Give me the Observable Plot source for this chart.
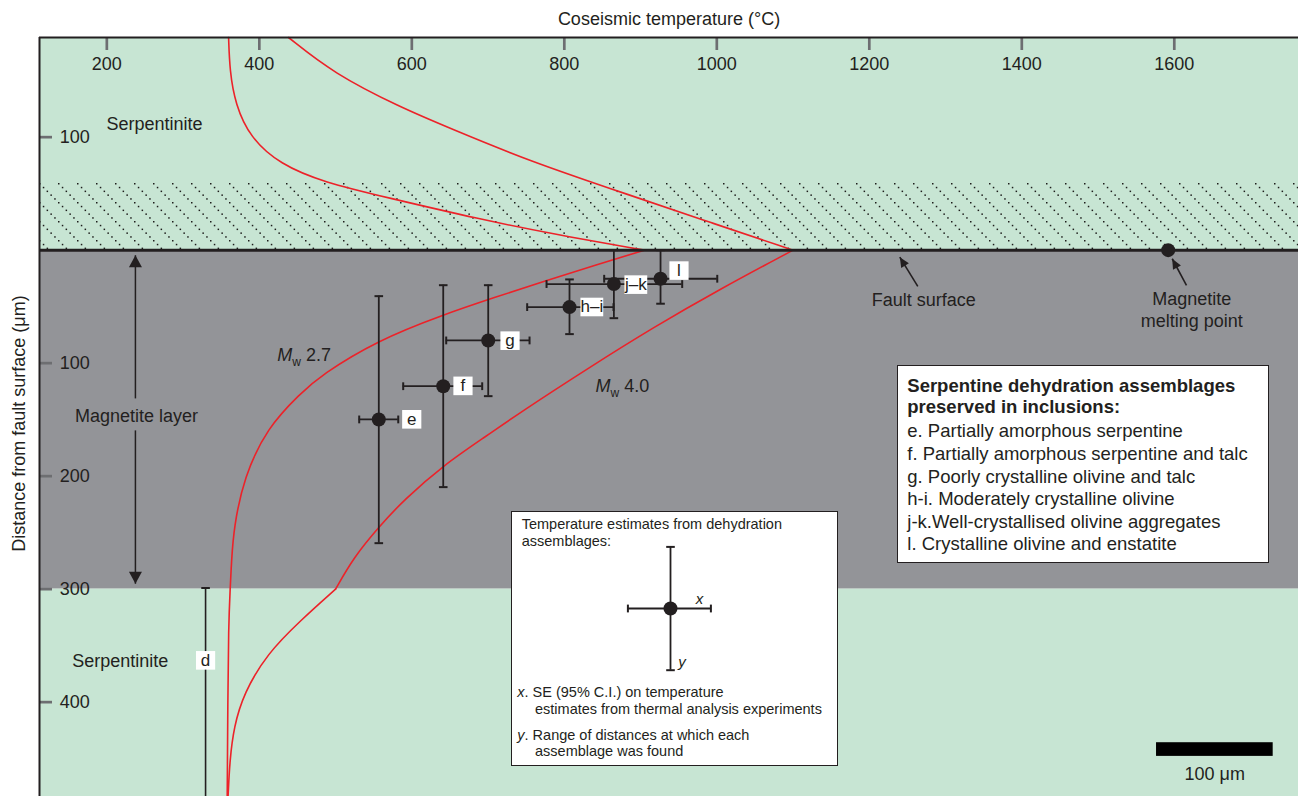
<!DOCTYPE html>
<html>
<head>
<meta charset="utf-8">
<script src="https://cdn.jsdelivr.net/npm/d3@7"></script>
<script src="https://cdn.jsdelivr.net/npm/@observablehq/plot@0.6"></script>
<style>
  html, body { margin: 0; padding: 0; background: #fff; }
  #wrap { position: relative; width: 1298px; height: 796px; overflow: hidden;
          font-family: "Liberation Sans", Arial, Helvetica, sans-serif; color: #231f20; }
  .box { position: absolute; background: #fff; border: 1.5px solid #231f20; box-sizing: border-box; }
  .ln { position: absolute; white-space: nowrap; }
</style>
</head>
<body>
<div id="wrap"></div>
<script>
// ---------------- data ----------------
const xTicks = [200, 400, 600, 800, 1000, 1200, 1400, 1600];      // °C
const yTicks = [-100, 100, 200, 300, 400];                         // µm (negative = above fault surface)
const xDomain = [111.7, 1762.9];
const yDomain = [-188.2, 483.5];

const zoneNames = ["Serpentinite (hanging wall)", "Magnetite layer", "Serpentinite (footwall)"];
const zoneTop = [-188.2, 0, 300];
const zoneBottom = [0, 300, 483.5];
const hatchTop = -59.2, hatchBottom = 0;

// serpentine dehydration assemblages
const assemblage = ["e", "f", "g", "h–i", "j–k", "l"];
const tempMean = [556.7, 641.2, 700.2, 806.8, 865.0, 926.2];
const tempLow  = [531.0, 588.7, 645.1, 751.3, 776.7, 852.3];
const tempHigh = [582.2, 692.3, 754.4, 864.5, 954.6, 1000.6];
const distMean = [149.8, 120.4, 79.9, 50.4, 30.0, 25.3];
const distLow  = [40.7, 31.0, 31.0, 25.9, 0, 0];
const distHigh = [259.3, 209.7, 129.2, 74.3, 60.2, 47.4];
const labelTemp = [599.9, 667.1, 728.8, 836.1, 893.8, 950.4];
const labelDist = [149.7, 120.1, 80.1, 50.3, 30.5, 18.1];

// assemblage d: distance range only
const dTemp = 329.5, dDistLow = 299, dDistHigh = 483.5, dLabelDist = 363;

// coseismic temperature profiles
const mw27UpperT = [359.7, 361.2, 368.5, 387.9, 426.8, 485.0, 567.5, 688.8, 785.8, 905];
const mw27UpperD = [-188.2, -158.8, -129.2, -99.7, -76.1, -59.9, -46.6, -27.4, -14.2, 0];
const mw27LowerT = [905, 839.6, 774.0, 708.5, 642.0, 554.6, 480.3, 454.0, 410.4, 379.7, 366.6, 363.6, 361.8, 359.6, 358.7, 357.9];
const mw27LowerD = [0, 13.5, 27.3, 41.9, 56.9, 79.9, 110.9, 126.8, 156.9, 201.2, 245.4, 274.6, 298.5, 334, 398.5, 483.5];
const mw40UpperT = [438.3, 497.3, 585.2, 650.8, 751.8, 886.9, 991.8, 1100];
const mw40UpperD = [-188.2, -156.4, -126.3, -107.7, -79.4, -48.4, -24.5, 0];
const mw40LayerT = [1100, 1004.9, 917.4, 830, 742.6, 698.9, 642, 589.5, 556.7, 523.9, 500];
const mw40LayerD = [0, 34.2, 68.1, 105, 143.4, 164, 190, 221, 245, 271.7, 300];
const mw40WallT = [500, 454, 410.4, 379.7, 366.6, 361.3, 359.2, 359];
const mw40WallD = [300, 327.7, 357, 392, 422, 451.6, 480.8, 483.5];

const magnitudes = ["2.7", "4.0"];
const magLabelT = [423.5, 841];
const magLabelD = [93.2, 120.6];

const magnetiteMeltT = 1592;

// legend content
const legendTitle = ["Serpentine dehydration assemblages", "preserved in inclusions:"];
const legendItems = [
  "e. Partially amorphous serpentine",
  "f. Partially amorphous serpentine and talc",
  "g. Poorly crystalline olivine and talc",
  "h-i. Moderately crystalline olivine",
  "j-k.Well-crystallised olivine aggregates",
  "l. Crystalline olivine and enstatite"
];
const glyphXErr = [-42.6, 40.4];
const glyphYErr = [-61.6, 61.7];

// ---------------- build ----------------
const ink = "#231f20", green = "#c7e5d3", gray = "#939498", red = "#ec2229", tickGray = "#6d6e71";
const font = '"Liberation Sans", Arial, Helvetica, sans-serif';
const NS = "http://www.w3.org/2000/svg";

const zones = zoneNames.map((name, i) => ({name, y1: zoneTop[i], y2: zoneBottom[i]}));
const points = assemblage.map((a, i) => ({
  a, T: tempMean[i], T1: tempLow[i], T2: tempHigh[i],
  d: distMean[i], d1: distLow[i], d2: distHigh[i], lT: labelTemp[i], lD: labelDist[i]
}));
const series = [
  {z: "Mw 2.7 above", T: mw27UpperT, d: mw27UpperD},
  {z: "Mw 2.7 below", T: mw27LowerT, d: mw27LowerD},
  {z: "Mw 4.0 above", T: mw40UpperT, d: mw40UpperD},
  {z: "Mw 4.0 layer", T: mw40LayerT, d: mw40LayerD},
  {z: "Mw 4.0 wall", T: mw40WallT, d: mw40WallD}
];
const profileRows = series.flatMap(s => s.T.map((t, i) => ({z: s.z, T: t, d: s.d[i]})));

const capH = {draw(ctx, size) { const r = Math.sqrt(size / Math.PI); ctx.moveTo(-r, 0); ctx.lineTo(r, 0); }};
const capV = {draw(ctx, size) { const r = Math.sqrt(size / Math.PI); ctx.moveTo(0, -r); ctx.lineTo(0, r); }};
const labelBox = {draw(ctx, size) { const r = Math.sqrt(size / Math.PI); ctx.rect(-r, -9.3, 2 * r, 18.6); }};

function solidArrowhead(length, halfWidth) {
  return (color, context) => {
    const doc = (context && context.document) || document;
    const m = doc.createElementNS(NS, "marker");
    m.setAttribute("markerUnits", "userSpaceOnUse");
    m.setAttribute("markerWidth", "1");
    m.setAttribute("markerHeight", "1");
    m.setAttribute("refX", "0");
    m.setAttribute("refY", "0");
    m.setAttribute("orient", "auto");
    m.setAttribute("overflow", "visible");
    const p = doc.createElementNS(NS, "path");
    p.setAttribute("d", `M0,0L${-length},${-halfWidth}L${-length},${halfWidth}Z`);
    p.setAttribute("fill", color);
    p.setAttribute("stroke", "none");
    m.appendChild(p);
    return m;
  };
}

const errCaps = points.flatMap(p => [{T: p.T, d: p.d1}, {T: p.T, d: p.d2}]).concat([{T: dTemp, d: dDistLow}]);
const errCapsX = points.flatMap(p => [{T: p.T1, d: p.d}, {T: p.T2, d: p.d}]);

const layerT = 237.5;
const layerArrows = [{T: layerT, d1: 131.2, d2: 4.5}, {T: layerT, d1: 159.5, d2: 295.2}];
const calloutArrows = [
  {T1: 1263.6, d1: 32.1, T2: 1240.0, d2: 6.2},
  {T1: 1616.0, d1: 31.2, T2: 1597.3, d2: 7.6}
];

const chart = Plot.plot({
  width: 1298, height: 796,
  marginTop: 37, marginLeft: 39, marginRight: 0, marginBottom: 0,
  x: {domain: xDomain},
  y: {domain: yDomain, reverse: true},
  r: {type: "identity"},
  style: {fontFamily: font, fontSize: "18px", color: ink, background: "transparent", overflow: "visible"},
  marks: [
    Plot.rect(zones, {x1: xDomain[0], x2: xDomain[1], y1: "y1", y2: "y2",
      fill: d => d.name === "Magnetite layer" ? gray : green}),
    Plot.rect([{y1: hatchTop, y2: hatchBottom}], {x1: xDomain[0], x2: xDomain[1], y1: "y1", y2: "y2", fill: "url(#dotHatch)"}),
    // axes (ticks point inward)
    Plot.axisX({anchor: "top", ticks: xTicks, tickSize: 12, dy: 12, tickFormat: () => "", label: null, stroke: tickGray, strokeWidth: 2.7}),
    Plot.axisY({anchor: "left", ticks: yTicks, tickSize: 13, dx: 13, tickFormat: () => "", label: null, stroke: tickGray, strokeWidth: 2.7}),
    Plot.text(xTicks, {x: d => d, frameAnchor: "top", lineAnchor: "middle", dy: 26.3, text: d => `${d}`, fontSize: 18, fill: ink}),
    Plot.text(yTicks, {y: d => d, frameAnchor: "left", lineAnchor: "middle", dx: 20.3, textAnchor: "start", text: d => `${Math.abs(d)}`, fontSize: 18, fill: ink}),
    Plot.text(["Coseismic temperature (°C)"], {frameAnchor: "top", lineAnchor: "middle", textAnchor: "middle", dy: -18.5, fontSize: 18, fill: ink}),
    Plot.text(["Distance from fault surface (μm)"], {frameAnchor: "left", textAnchor: "middle", lineAnchor: "middle", dx: -20, dy: 6.5, rotate: -90, fontSize: 18, fill: ink}),
    // temperature profiles
    Plot.line(profileRows, {x: "T", y: "d", z: "z", stroke: red, strokeWidth: 1.6, curve: "basis"}),
    // error bars
    Plot.ruleX(points, {x: "T", y1: "d1", y2: "d2", stroke: ink, strokeWidth: 1.8}),
    Plot.ruleY(points, {y: "d", x1: "T1", x2: "T2", stroke: ink, strokeWidth: 1.8}),
    Plot.ruleX([{T: dTemp, d1: dDistLow, d2: dDistHigh}], {x: "T", y1: "d1", y2: "d2", stroke: ink, strokeWidth: 1.6}),
    Plot.dot(errCaps, {x: "T", y: "d", symbol: capH, r: 4.3, fill: "none", stroke: ink, strokeWidth: 2}),
    Plot.dot(errCapsX, {x: "T", y: "d", symbol: capV, r: 3.9, fill: "none", stroke: ink, strokeWidth: 2}),
    // label boxes
    Plot.dot(points, {x: "lT", y: "lD", symbol: labelBox, r: p => p.a.length > 1 ? 11.4 : 9.6, fill: "white", stroke: "none"}),
    Plot.text(points, {x: "lT", y: "lD", text: "a", fontSize: 17, fill: ink}),
    Plot.dot([{T: dTemp, d: dLabelDist, a: "d"}], {x: "T", y: "d", symbol: labelBox, r: 9.6, fill: "white", stroke: "none"}),
    Plot.text([{T: dTemp, d: dLabelDist, a: "d"}], {x: "T", y: "d", text: "a", fontSize: 17, fill: ink}),
    // fault surface & markers
    Plot.ruleY([0], {stroke: ink, strokeWidth: 3}),
    Plot.dot(points, {x: "T", y: "d", r: 7, fill: ink}),
    Plot.dot([{T: magnetiteMeltT, d: 0}], {x: "T", y: "d", r: 7, fill: ink}),
    // arrows
    Plot.link(layerArrows, {x1: "T", x2: "T", y1: "d1", y2: "d2", stroke: ink, strokeWidth: 1.5, markerEnd: solidArrowhead(12, 6.5)}),
    Plot.link(calloutArrows, {x1: "T1", y1: "d1", x2: "T2", y2: "d2", stroke: ink, strokeWidth: 1.6, markerEnd: solidArrowhead(10, 4.5)}),
    // annotations
    Plot.text(["Serpentinite"], {x: 199.6, y: -111.2, textAnchor: "start", fontSize: 18, fill: ink}),
    Plot.text(["Serpentinite"], {x: 154.6, y: 364, textAnchor: "start", fontSize: 18, fill: ink}),
    Plot.text(["Magnetite layer"], {x: layerT + 1.5, y: 147.2, fontSize: 18, fill: ink}),
    Plot.text(["Fault surface"], {x: 1271.5, y: 44.5, fontSize: 18, fill: ink}),
    Plot.text(["Magnetite\nmelting point"], {x: 1623, y: 52.3, lineHeight: 1.17, fontSize: 18, fill: ink}),
    Plot.text(magnitudes, {x: (d, i) => magLabelT[i], y: (d, i) => magLabelD[i], text: d => d, textAnchor: "start", fontSize: 18, fill: ink}),
    // scale bar
    Plot.rect([{x1: 1576.7, x2: 1729.7, y1: 435.9, y2: 448}], {x1: "x1", x2: "x2", y1: "y1", y2: "y2", fill: "#000"}),
    Plot.text(["100 μm"], {x: 1653.1, y: 464.2, fontSize: 18, fill: ink}),
    // frame
    Plot.ruleX([xDomain[0]], {stroke: ink, strokeWidth: 2}),
    Plot.ruleY([yDomain[0]], {stroke: ink, strokeWidth: 2})
  ]
});

chart.style.position = "absolute";
chart.style.left = "0px";
chart.style.top = "0px";

// dotted diagonal hatch pattern
const defs = document.createElementNS(NS, "defs");
const pat = document.createElementNS(NS, "pattern");
pat.setAttribute("id", "dotHatch");
pat.setAttribute("patternUnits", "userSpaceOnUse");
pat.setAttribute("width", "19");
pat.setAttribute("height", "19");
pat.setAttribute("x", "39");
pat.setAttribute("y", "183");
for (let i = 0; i < 5; i++) {
  const r = document.createElementNS(NS, "rect");
  r.setAttribute("x", (i * 3.8).toFixed(2));
  r.setAttribute("y", (i * 3.8).toFixed(2));
  r.setAttribute("width", "1.5");
  r.setAttribute("height", "1.5");
  r.setAttribute("fill", "#1d1d1b");
  pat.appendChild(r);
}
defs.appendChild(pat);
chart.insertBefore(defs, chart.firstChild);

// M_w labels: italic M with subscript w
chart.querySelectorAll("text").forEach(t => {
  const v = t.textContent;
  if (!magnitudes.includes(v)) return;
  while (t.firstChild) t.removeChild(t.firstChild);
  const mk = (txt, attrs) => {
    const s = document.createElementNS(NS, "tspan");
    for (const k in attrs) s.setAttribute(k, attrs[k]);
    s.textContent = txt;
    t.appendChild(s);
  };
  mk("M", {"font-style": "italic"});
  mk("w", {"font-size": "12", "dy": "5"});
  mk("\u00a0" + v, {"dy": "-5"});
});

const wrap = document.getElementById("wrap");
wrap.appendChild(chart);

// ---------------- legends ----------------
function box(left, top, width, height) {
  const b = document.createElement("div");
  b.className = "box";
  Object.assign(b.style, {left: left + "px", top: top + "px", width: width + "px", height: height + "px"});
  wrap.appendChild(b);
}
function line(html, left, cy, size, lh, bold) {
  const el = document.createElement("div");
  el.className = "ln";
  el.innerHTML = html;
  Object.assign(el.style, {left: left + "px", top: (cy - lh / 2) + "px", fontSize: size + "px",
    lineHeight: lh + "px", fontWeight: bold ? "bold" : "normal"});
  wrap.appendChild(el);
}

// legend 1: error-bar key
box(511, 510.5, 327, 255);
line("Temperature estimates from dehydration", 521.7, 524.3, 14.5, 17);
line("assemblages:", 521.7, 541.3, 14.5, 17);
line("<i>x</i>. SE (95% C.I.) on temperature", 517.3, 692.7, 14.5, 17);
line("estimates from thermal analysis experiments", 535, 709.3, 14.5, 17);
line("<i>y</i>. Range of distances at which each", 517.3, 735, 14.5, 17);
line("assemblage was found", 535, 751.7, 14.5, 17);

const glyph = Plot.plot({
  width: 120, height: 140, margin: 0,
  x: {domain: [-60, 60], axis: null},
  y: {domain: [-70, 70], reverse: true, axis: null},
  style: {fontFamily: font, fontSize: "15px", color: ink, background: "transparent", overflow: "visible"},
  marks: [
    Plot.ruleY([0], {x1: glyphXErr[0], x2: glyphXErr[1], stroke: ink, strokeWidth: 1.8}),
    Plot.ruleX([0], {y1: glyphYErr[0], y2: glyphYErr[1], stroke: ink, strokeWidth: 1.8}),
    Plot.dot(glyphYErr, {x: 0, y: d => d, symbol: capH, r: 4.3, fill: "none", stroke: ink, strokeWidth: 2}),
    Plot.dot(glyphXErr, {x: d => d, y: 0, symbol: capV, r: 3.9, fill: "none", stroke: ink, strokeWidth: 2}),
    Plot.dot([0], {x: 0, y: 0, r: 7, fill: ink}),
    Plot.text(["x"], {x: 29, y: -9, fontStyle: "italic", fontSize: 15, fill: ink}),
    Plot.text(["y"], {x: 11.4, y: 53.4, fontStyle: "italic", fontSize: 15, fill: ink})
  ]
});
glyph.style.position = "absolute";
glyph.style.left = "610.3px";
glyph.style.top = "538.3px";
wrap.appendChild(glyph);

// legend 2: assemblage list
box(896.7, 365, 372, 198);
line(legendTitle[0], 907.3, 385, 18.5, 21, true);
line(legendTitle[1], 907.3, 406, 18.5, 21, true);
legendItems.forEach((txt, i) => line(txt, 907.3, 431.7 + i * 22.6, 18.5, 22.6));
</script>
</body>
</html>
